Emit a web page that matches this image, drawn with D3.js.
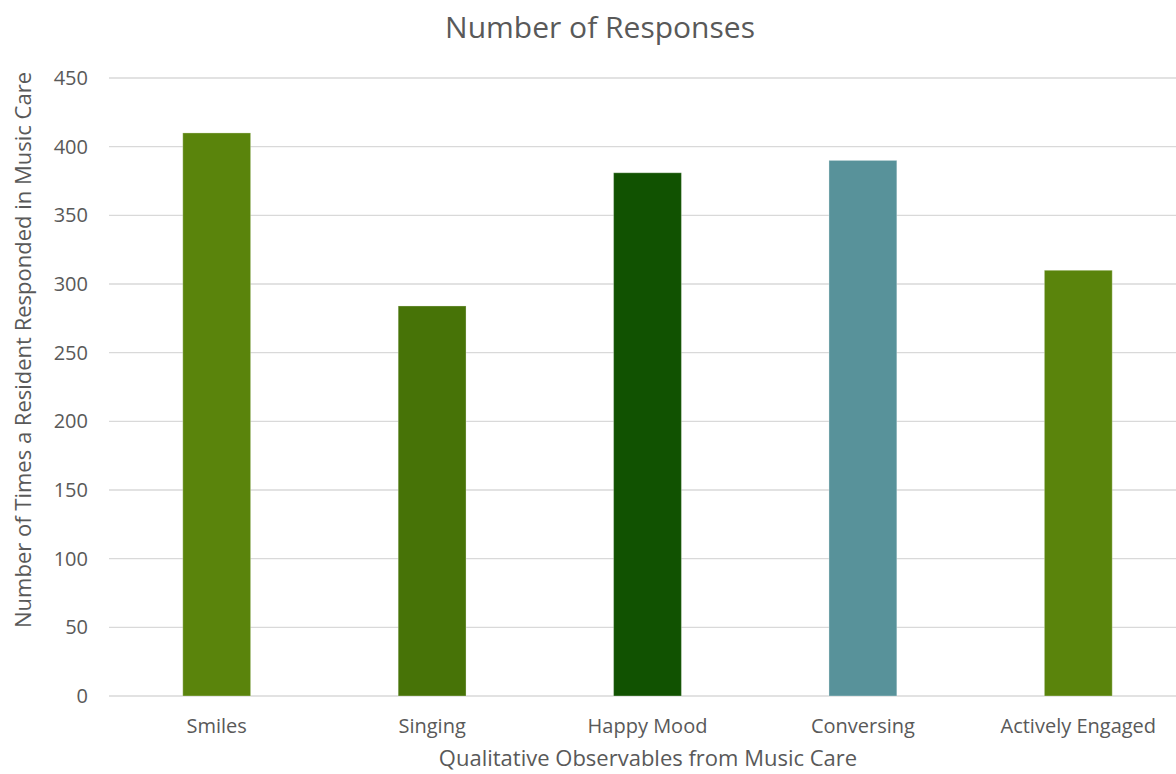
<!DOCTYPE html>
<html>
<head>
<meta charset="utf-8">
<script src="https://cdn.jsdelivr.net/npm/d3@7"></script>
<style>
  html, body { margin: 0; padding: 0; background: #fff; }
  svg { display: block; font-family: "Open Sans", sans-serif; }
</style>
</head>
<body>
<svg id="chart" width="1176" height="774"></svg>
<script>
// Observed responses per category
const categories = ["Smiles", "Singing", "Happy Mood", "Conversing", "Actively Engaged"];
const responses = [410, 284, 381, 390, 310];
const barColors = ["#5a840c", "#477307", "#115201", "#58929a", "#5a840c"];
const yTicks = [0, 50, 100, 150, 200, 250, 300, 350, 400, 450];

const svg = d3.select("#chart");
const margin = { left: 109, right: -10, top: 78, bottom: 78 };
const width = 1176, height = 774;
const textColor = "#595959";

const x = d3.scaleBand()
  .domain(categories)
  .range([margin.left, width - margin.right])
  .paddingInner(0.685)
  .paddingOuter(0.3425);

const y = d3.scaleLinear()
  .domain([0, 450])
  .range([height - margin.bottom, margin.top]);

// horizontal gridlines
svg.append("g")
  .selectAll("line")
  .data(yTicks)
  .join("line")
  .attr("x1", margin.left)
  .attr("x2", width)
  .attr("y1", d => y(d))
  .attr("y2", d => y(d))
  .attr("stroke", "#d9d9d9")
  .attr("stroke-width", 1.3);

// y axis labels
const yAxis = svg.append("g")
  .attr("transform", `translate(${margin.left - 21},0)`)
  .call(d3.axisLeft(y).tickValues(yTicks).tickSize(0).tickPadding(0));
yAxis.select(".domain").remove();
yAxis.selectAll("text")
  .attr("fill", textColor)
  .style("font-size", "20px")
  .style("font-family", "'Open Sans', sans-serif");

// bars
svg.append("g")
  .selectAll("rect")
  .data(categories)
  .join("rect")
  .attr("x", d => x(d))
  .attr("width", x.bandwidth())
  .attr("y", (d, i) => y(responses[i]))
  .attr("height", (d, i) => y(0) - y(responses[i]))
  .attr("fill", (d, i) => barColors[i])
  .attr("stroke", "rgba(255,255,255,0.3)")
  .attr("stroke-width", 1);

// x axis category labels
const xAxis = svg.append("g")
  .attr("transform", `translate(0,${y(0)})`)
  .call(d3.axisBottom(x).tickSize(0).tickPadding(23));
xAxis.select(".domain").remove();
xAxis.selectAll("text")
  .attr("fill", textColor)
  .style("font-size", "20px")
  .style("font-family", "'Open Sans', sans-serif");

// chart title
svg.append("text")
  .attr("x", 600)
  .attr("y", 38)
  .attr("text-anchor", "middle")
  .attr("fill", textColor)
  .style("font-size", "30px")
  .text("Number of Responses");

// axis titles
svg.append("text")
  .attr("x", 648)
  .attr("y", 766)
  .attr("text-anchor", "middle")
  .attr("fill", textColor)
  .style("font-size", "22px")
  .text("Qualitative Observables from Music Care");

svg.append("text")
  .attr("transform", "translate(31,350) rotate(-90)")
  .attr("text-anchor", "middle")
  .attr("fill", textColor)
  .style("font-size", "22px")
  .text("Number of Times a Resident Responded in Music Care");
</script>
</body>
</html>
